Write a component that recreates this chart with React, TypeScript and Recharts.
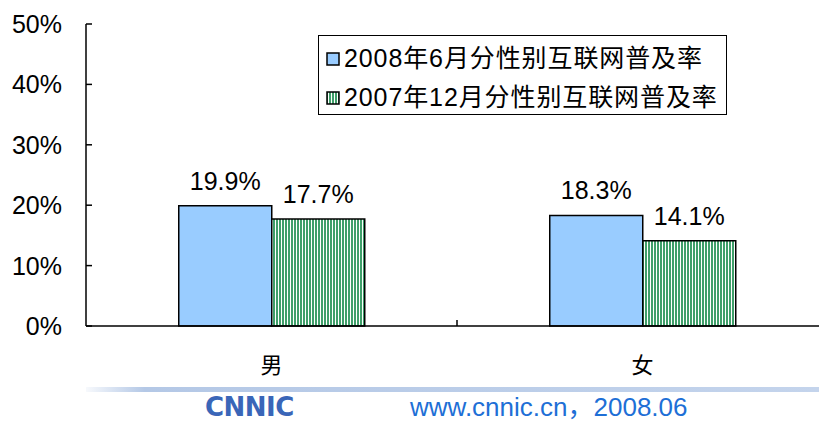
import React from 'react';
import { BarChart, Bar, XAxis, YAxis, LabelList } from 'recharts';

const categories = ['男', '女'];
const jun2008 = [19.9, 18.3];
const dec2007 = [17.7, 14.1];
const yTicks = [0, 10, 20, 30, 40, 50];
const seriesNames = ['2008年6月分性别互联网普及率', '2007年12月分性别互联网普及率'];

const data = categories.map((name, i) => ({ name, jun2008: jun2008[i], dec2007: dec2007[i] }));

const CHART_W = 840;
const CHART_H = 380;
const LEFT = 86;
const RIGHT = 12;
const TOP = 24;
const XAXIS_H = 54;
const BAND = (CHART_W - LEFT - RIGHT) / categories.length;

const FONT = '"Liberation Sans", Arial, "Noto Sans CJK SC", sans-serif';
const BLUE = '#99ccff';

const YTick = (props: any) => {
  const { x, y, payload } = props;
  return (
    <g>
      <line x1={x} y1={y} x2={x + 6} y2={y} stroke="#000" strokeWidth={1.5} />
      <text x={x - 24} y={y} dy={9} textAnchor="end" fontSize={25} fontFamily={FONT} fill="#000">
        {payload.value}%
      </text>
    </g>
  );
};

const XTick = (props: any) => {
  const { x, y, payload, index } = props;
  return (
    <g>
      {index < categories.length - 1 && (
        <line x1={x + BAND / 2} y1={y} x2={x + BAND / 2} y2={y - 6} stroke="#000" strokeWidth={1.5} />
      )}
      <text x={x} y={y + 47} textAnchor="middle" fontSize={22} fontFamily='"Noto Sans CJK SC", serif' fill="#000">
        {payload.value}
      </text>
    </g>
  );
};

const LegendBox = () => (
  <div
    style={{
      position: 'absolute',
      left: 318,
      top: 35,
      width: 409,
      height: 80,
      boxSizing: 'border-box',
      border: '1.5px solid #000',
      background: '#fff',
      fontFamily: FONT,
      fontSize: 25,
      color: '#000',
      padding: '3px 0 0 7px',
    }}
  >
    {seriesNames.map((n, i) => (
      <div key={n} style={{ display: 'flex', alignItems: 'center', height: 39, lineHeight: '39px', whiteSpace: 'nowrap' }}>
        <svg width={14} height={14} style={{ marginRight: 4 }}>
          <rect x={1} y={1} width={12} height={12} fill={i === 0 ? BLUE : 'url(#stripes)'} stroke="#000" strokeWidth={1.5} />
        </svg>
        <span style={{ letterSpacing: 0.9 }}>{n}</span>
      </div>
    ))}
  </div>
);

export default function App() {
  return (
    <div style={{ position: 'absolute', left: 0, top: 0, width: 819, height: 423, overflow: 'hidden', background: '#fff' }}>
      <svg width={0} height={0} style={{ position: 'absolute' }}>
        <defs>
          <pattern id="stripes" width={3} height={4} patternUnits="userSpaceOnUse">
            <rect x={0} y={0} width={3} height={4} fill="#fff" />
            <rect x={0} y={0} width={2} height={4} fill="#3f9f6a" />
          </pattern>
        </defs>
      </svg>
      <BarChart
        width={CHART_W}
        height={CHART_H}
        data={data}
        margin={{ top: TOP, right: RIGHT, bottom: 0, left: 0 }}
        barCategoryGap="25%"
        barGap={0}
      >
        <YAxis
          width={LEFT}
          domain={[0, 50]}
          ticks={yTicks}
          interval={0}
          axisLine={{ stroke: '#000', strokeWidth: 1.5 }}
          tickLine={false}
          tickSize={0}
          tickMargin={0}
          tick={<YTick />}
        />
        <XAxis
          dataKey="name"
          height={XAXIS_H}
          axisLine={{ stroke: '#000', strokeWidth: 1.5 }}
          tickLine={false}
          tickSize={0}
          tickMargin={0}
          tick={<XTick />}
        />
        <Bar dataKey="jun2008" name={seriesNames[0]} fill={BLUE} stroke="#000" strokeWidth={1.5} isAnimationActive={false}>
          <LabelList dataKey="jun2008" position="top" offset={16} fontSize={25} fontFamily={FONT} fill="#000" formatter={(v: any) => `${Number(v).toFixed(1)}%`} />
        </Bar>
        <Bar dataKey="dec2007" name={seriesNames[1]} fill="url(#stripes)" stroke="#000" strokeWidth={1.5} isAnimationActive={false}>
          <LabelList dataKey="dec2007" position="top" offset={16} fontSize={25} fontFamily={FONT} fill="#000" formatter={(v: any) => `${Number(v).toFixed(1)}%`} />
        </Bar>
      </BarChart>
      <LegendBox />
      <div
        style={{
          position: 'absolute',
          left: 86,
          top: 387,
          width: 733,
          height: 5,
          background: 'linear-gradient(to right, rgba(176,196,228,0.1), #b4c8e6 8%, #bccee9 60%, #c4d4ec)',
        }}
      />
      <div
        style={{
          position: 'absolute',
          left: 205,
          top: 394,
          fontFamily: '"DejaVu Sans", sans-serif',
          fontWeight: 'bold',
          fontSize: 26,
          letterSpacing: -0.5,
          color: '#3a66b8',
          lineHeight: '26px',
          whiteSpace: 'nowrap',
        }}
      >
        CNNIC
      </div>
      <div
        style={{
          position: 'absolute',
          left: 410,
          top: 394,
          fontFamily: FONT,
          fontSize: 26,
          lineHeight: '27px',
          color: '#1e6fd6',
          whiteSpace: 'nowrap',
        }}
      >
        www.cnnic.cn，2008.06
      </div>
    </div>
  );
}
